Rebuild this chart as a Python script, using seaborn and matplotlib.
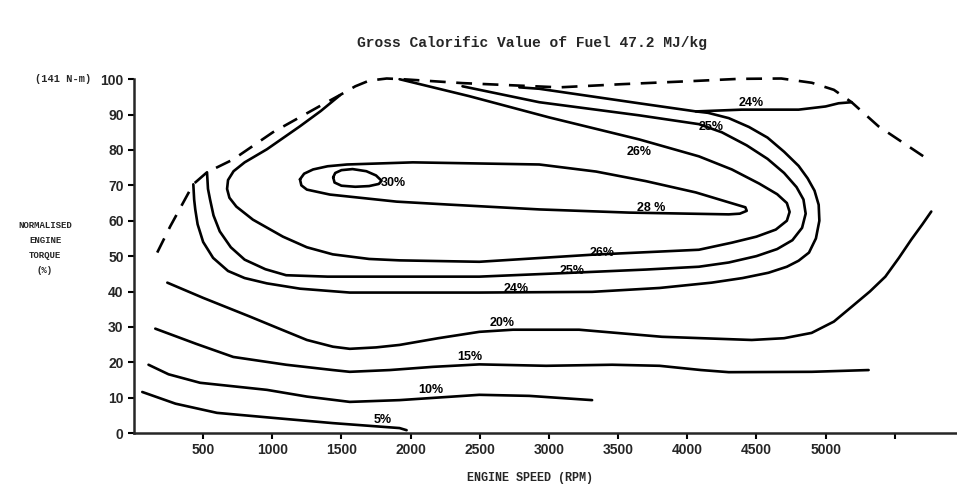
import pandas as pd
import seaborn as sns
import matplotlib.pyplot as plt

# full-load (max torque) boundary, dashed
speed_max = [168, 262, 428, 528, 716, 1004, 1343, 1488, 1600, 1700, 1827, 1942, 2375, 3074, 3528, 4050, 4372, 4680, 4900, 5060, 5188, 5382, 5719]
torque_max = [51, 58.4, 70.3, 73.7, 77.3, 85, 92.4, 95.5, 98, 99.6, 100.2, 100, 98.9, 97.7, 98.6, 99.5, 100.1, 100.2, 99, 97, 93.5, 86.7, 77.9]

# efficiency contours (speed rpm, torque %)
speed_30 = [1440, 1455, 1500, 1580, 1680, 1750, 1790, 1770, 1700, 1600, 1500, 1450, 1440]
torque_30 = [72.3, 73.5, 74.3, 74.6, 74.0, 72.8, 71.3, 70.4, 69.8, 69.6, 69.9, 70.8, 72.3]

speed_28 = [1200, 1230, 1295, 1400, 1540, 2016, 2930, 3341, 3700, 4062, 4300, 4420, 4430, 4380, 4300, 3579, 2930, 2260, 1899, 1416, 1250, 1210, 1200]
torque_28 = [71.7, 73.3, 74.5, 75.4, 75.9, 76.5, 75.9, 73.9, 71.2, 68, 65.2, 63.8, 62.8, 62.0, 61.8, 62.3, 63.2, 64.6, 65.4, 67.4, 68.8, 70.0, 71.7]

speed_26 = [1490, 1350, 1200, 961, 800, 720, 680, 673, 690, 740, 860, 1077, 1250, 1437, 1700, 1920, 2497, 3312, 4084, 4322, 4500, 4640, 4720, 4740, 4720, 4650, 4520, 4322, 4084, 3651, 3002, 2425, 1920]
torque_26 = [95.5, 91, 86.7, 80.2, 76.5, 74, 71.5, 69, 66.5, 64, 60.3, 55.5, 52.5, 50.5, 49.2, 48.8, 48.4, 50.4, 51.8, 53.8, 55.5, 57.5, 60, 62.5, 65, 67.5, 70.5, 74.5, 78.2, 83, 89.2, 95.2, 100]

speed_25 = [528, 535, 550, 575, 620, 700, 800, 950, 1100, 1400, 1683, 2497, 3167, 3700, 4084, 4300, 4500, 4650, 4760, 4830, 4856, 4840, 4790, 4700, 4580, 4430, 4250, 4084, 3651, 2930, 2375]
torque_25 = [73.7, 69, 66, 61.5, 57, 52.5, 49, 46.3, 44.6, 44.2, 44.2, 44.2, 45.3, 46.2, 47, 48.2, 50, 52, 54.5, 58, 62, 66, 69.5, 73.5, 77.5, 81.3, 85, 87.3, 89.8, 93.5, 98]

speed_24 = [429, 435, 443, 460, 500, 572, 680, 800, 961, 1200, 1560, 2497, 3312, 3800, 4176, 4400, 4587, 4720, 4805, 4880, 4930, 4955, 4950, 4920, 4870, 4805, 4700, 4580, 4446, 4300, 4150, 4062, 3651, 2930, 2786]
torque_24 = [70.3, 66, 63.2, 59, 54, 49.5, 45.8, 43.8, 42.3, 40.8, 39.7, 39.7, 39.9, 41, 42.5, 43.8, 45.3, 47, 48.7, 51, 55, 60, 64.5, 68.5, 72, 75.5, 79.5, 83.5, 86.5, 89, 90.5, 90.9, 93.2, 97.3, 97.7]

speed_24_top = [4062, 4394, 4805, 5000, 5094, 5188]
torque_24_top = [90.9, 91.4, 91.4, 92.3, 93.2, 93.5]

speed_20 = [241, 500, 839, 1050, 1250, 1438, 1560, 1750, 1920, 2200, 2497, 2740, 3218, 3817, 4466, 4700, 4899, 5060, 5189, 5320, 5432, 5530, 5620, 5700, 5764]
torque_20 = [42.5, 38.2, 32.9, 29.5, 26.3, 24.4, 23.8, 24.2, 24.9, 26.8, 28.6, 29.2, 29.2, 27.2, 26.3, 26.8, 28.3, 31.5, 35.7, 40, 44.2, 49.5, 54.7, 59, 62.6]

speed_15 = [154, 450, 718, 1100, 1438, 1560, 1850, 2160, 2497, 2980, 3457, 3800, 4100, 4300, 4900, 5311]
torque_15 = [29.5, 25.2, 21.5, 19.3, 17.8, 17.3, 17.8, 18.7, 19.4, 19.0, 19.3, 19.0, 17.8, 17.2, 17.3, 17.8]

speed_10 = [105, 250, 478, 961, 1250, 1560, 1920, 2497, 2858, 3312]
torque_10 = [19.3, 16.6, 14.2, 12.2, 10.3, 8.8, 9.3, 10.8, 10.5, 9.3]

speed_5 = [60, 300, 600, 1000, 1438, 1920, 1971]
torque_5 = [11.6, 8.3, 5.7, 4.3, 2.8, 1.4, 0.8]

# contour labels
label_text = ['30%', '28 %', '26%', '25%', '24%', '26%', '25%', '24%', '20%', '15%', '10%', '5%']
label_speed = [1877, 3739, 3651, 4170, 4459, 3385, 3167, 2764, 2663, 2425, 2144, 1798]
label_torque = [70.8, 63.7, 79.3, 86.4, 93.2, 51, 45.9, 40.8, 31.2, 21.5, 12.2, 3.7]

xtick_values = [500, 1000, 1500, 2000, 2500, 3000, 3500, 4000, 4500, 5000, 5500]
xtick_labels = ['500', '1000', '1500', '2000', '2500', '3000', '3500', '4000', '4500', '5000', '']
ytick_values = [0, 10, 20, 30, 40, 50, 60, 70, 80, 90, 100]

contours = {
    '30': (speed_30, torque_30), '28': (speed_28, torque_28),
    '26': (speed_26, torque_26), '25': (speed_25, torque_25),
    '24': (speed_24, torque_24), '24top': (speed_24_top, torque_24_top),
    '20': (speed_20, torque_20), '15': (speed_15, torque_15),
    '10': (speed_10, torque_10), '5': (speed_5, torque_5),
}
rows = []
for name, (sx, ty) in contours.items():
    for i, (a, b) in enumerate(zip(sx, ty)):
        rows.append({'contour': name, 'order': i, 'speed': a, 'torque': b})
df = pd.DataFrame(rows)
df_max = pd.DataFrame({'speed': speed_max, 'torque': torque_max})

sns.set_style('ticks')
plt.rcParams['font.family'] = ['Liberation Sans Narrow', 'Liberation Sans', 'DejaVu Sans']

fig = plt.figure(figsize=(9.57, 4.86), dpi=100)
ax = fig.add_axes([0.140, 0.109, 0.86, 0.728])

# solid efficiency contours
sns.lineplot(data=df, x='speed', y='torque', units='contour', estimator=None,
             sort=False, color='black', linewidth=1.9, ax=ax)
# dashed full-load line
sns.lineplot(data=df_max, x='speed', y='torque', sort=False, color='black',
             linewidth=1.9, ax=ax)
ax.lines[-1].set_dashes([6, 4])
for ln in ax.lines:
    ln.set_clip_on(False)
    ln.set_solid_joinstyle('round')

for t, sx, ty in zip(label_text, label_speed, label_torque):
    ax.text(sx, ty, t, ha='center', va='center', fontsize=9, fontweight='bold',
            color='black')

ax.set_xlim(0, 5950)
ax.set_ylim(0, 100)
ax.set_xticks(xtick_values)
ax.set_xticklabels(xtick_labels)
ax.set_yticks(ytick_values)
ax.tick_params(axis='both', labelsize=10, width=1.5, length=4, color='black')
for lbl in ax.get_xticklabels() + ax.get_yticklabels():
    lbl.set_fontweight('bold')
sns.despine(ax=ax)
ax.spines['left'].set_linewidth(1.8)
ax.spines['bottom'].set_linewidth(1.8)
ax.set_xlabel('')
ax.set_ylabel('')

mono = ['Liberation Mono', 'DejaVu Sans Mono']
fig.text(532 / 957, 1 - 43 / 486, 'Gross Calorific Value of Fuel 47.2 MJ/kg',
         ha='center', va='center', fontsize=10.5, fontweight='bold', family=mono)
fig.text(63 / 957, 1 - 79 / 486, '(141 N-m)', ha='center', va='center',
         fontsize=7.5, fontweight='bold', family=mono)
fig.text(45 / 957, 1 - 248 / 486, 'NORMALISED\nENGINE\nTORQUE\n(%)', ha='center',
         va='center', fontsize=6.5, fontweight='bold', linespacing=1.9, family=mono)
fig.text(530 / 957, 1 - 478 / 486, 'ENGINE SPEED (RPM)', ha='center', va='center',
         fontsize=8.5, fontweight='bold', family=mono)

fig.savefig('out.png', dpi=100)
